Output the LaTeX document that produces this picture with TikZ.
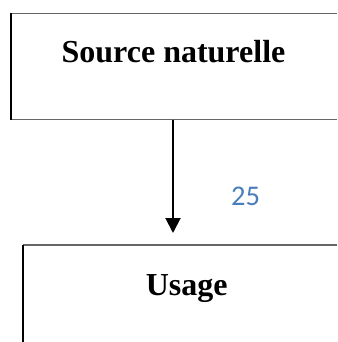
\documentclass[tikz,border=0pt]{standalone}
\usepackage{fontspec}
\setmainfont{Liberation Serif}
\newfontfamily\numfont{Carlito}
\usetikzlibrary{arrows.meta}
\definecolor{numblue}{HTML}{4A7EBB}
\tikzset{
  boxtitle/.style={anchor=base,inner sep=0pt,font=\bfseries\fontsize{32}{36}\selectfont},
  topedge/.style={draw=black!60,line width=1.3pt},
  sideedge/.style={draw=black,line width=1.3pt}
}
\begin{document}
\begin{tikzpicture}[x=1pt,y=-1pt,>={Triangle[width=15pt,length=15pt]},line join=round]
\useasboundingbox (0,0) rectangle (337,342);
\path
(11,13.5) coordinate (S1)
(337,13.5) coordinate (S2)
(11,119.5) coordinate (S3)
(337,119.5) coordinate (S4)
(23,245) coordinate (U1)
(337,245) coordinate (U2)
(23,342) coordinate (U3)
(173,119.5) coordinate (from)
(173,233) coordinate (to)
;
\node[boxtitle] (source) at (173.5,63) {Source naturelle};
\node[boxtitle] (usage) at (186.7,295) {Usage};
\node[anchor=base,inner sep=0pt,text=numblue,font=\numfont\fontsize{28.5}{32}\selectfont] (num) at (245.5,205) {25};
\draw[topedge]
(S1)--(S2)
(S3)--(S4)
(U1)--(U2)
;
\draw[sideedge]
(S1)--(S3)
(U1)--(U3)
;
\draw[->,line width=2pt,black]
(from)--(to)
;
\end{tikzpicture}
\end{document}
